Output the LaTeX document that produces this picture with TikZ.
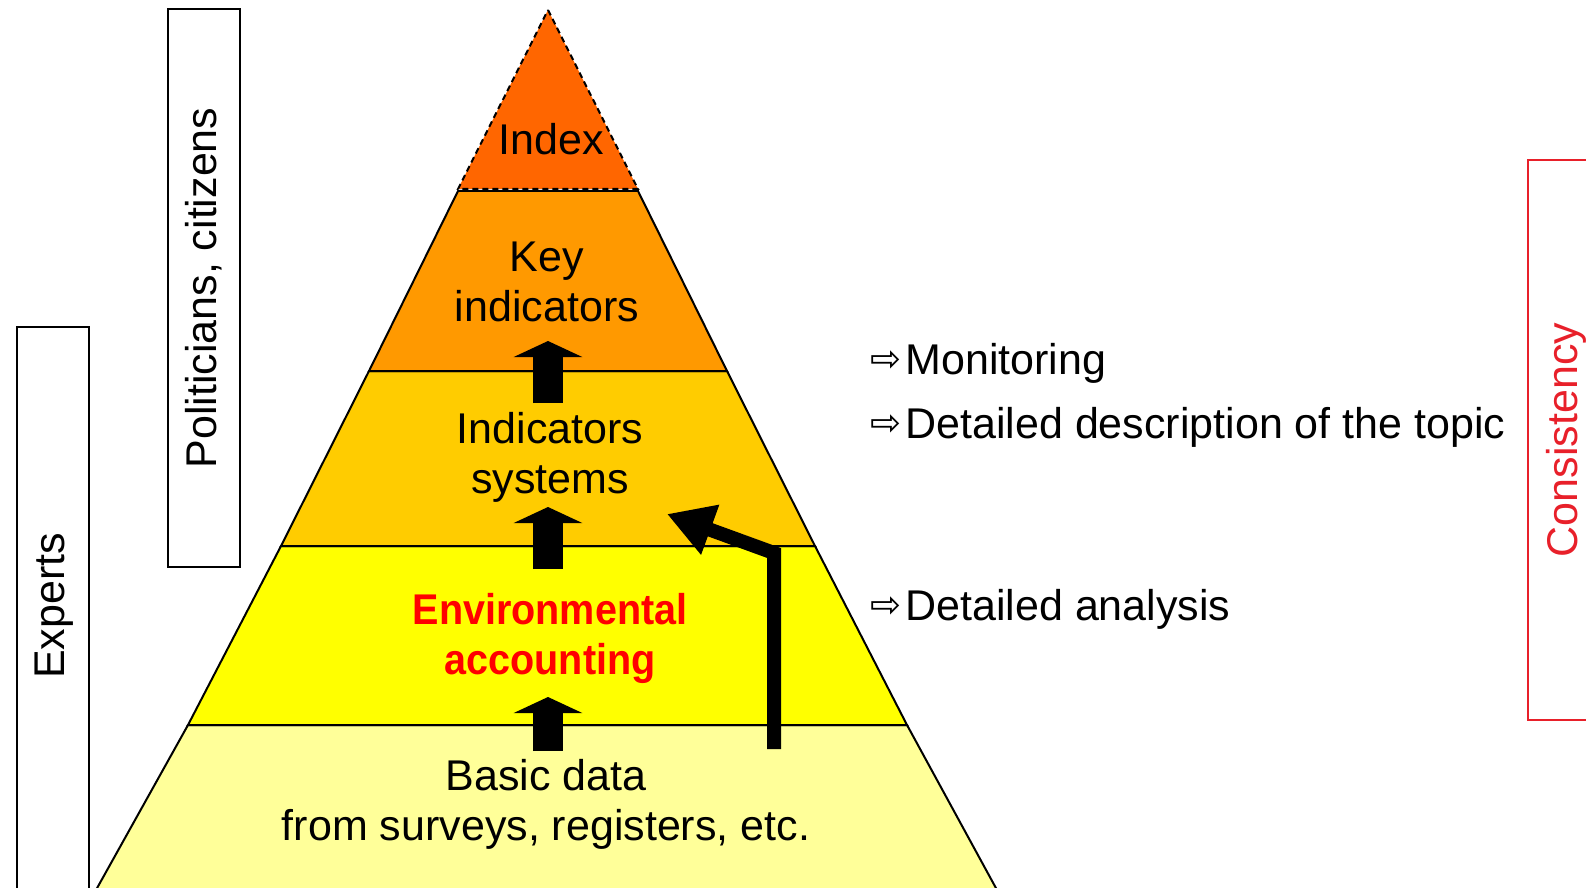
\documentclass[tikz,border=0pt]{standalone}
\usepackage{fontspec}
\setmainfont{Liberation Sans}
\newfontfamily\arrowfont{DejaVu Sans}
\newfontface\envfont[FakeStretch=0.92]{Liberation Sans Bold}
\usetikzlibrary{arrows.meta}
\definecolor{indexcol}{HTML}{FF6600}
\definecolor{keycol}{HTML}{FF9900}
\definecolor{syscol}{HTML}{FFCC00}
\definecolor{envcol}{HTML}{FFFF00}
\definecolor{basiccol}{HTML}{FFFF99}
\definecolor{conscol}{HTML}{E8202A}
\tikzset{
  layer/.style={draw=black, line width=1pt, line join=miter},
  layertext/.style={align=center, font=\fontsize{21.5}{25}\selectfont},
  sidetext/.style={anchor=base west, font=\fontsize{21.5}{25}\selectfont, inner sep=0pt},
  rolebox/.style={draw=black, line width=1pt},
  roletext/.style={rotate=90, font=\fontsize{21.5}{25}\selectfont},
  blockarrow/.style={line width=15pt, -{Triangle[length=8pt, width=34pt]}},
}
\def\sidearrow{\raisebox{1.5pt}{\arrowfont\fontsize{18.5}{20}\selectfont\symbol{"21E8}}\kern2pt}

\begin{document}
\begin{tikzpicture}[x=0.5pt, y=-0.5pt]
		%%%%% START %%%%%
		\useasboundingbox (0, 0) rectangle (1586, 888);
		\clip (0, 0) rectangle (1586, 888);
		
		% pyramid layers, bottom up
		\draw[layer, fill=basiccol] (188, 725) -- (907, 725) -- (997, 890) -- (96, 890) -- cycle;
		\draw[layer, fill=envcol] (281, 546) -- (815, 546) -- (907, 725) -- (188, 725) -- cycle;
		\draw[layer, fill=syscol] (369, 371) -- (727, 371) -- (815, 546) -- (281, 546) -- cycle;
		\draw[layer, fill=keycol] (458, 191) -- (638, 191) -- (727, 371) -- (369, 371) -- cycle;
		\draw[layer, fill=indexcol, dash pattern=on 3pt off 2pt] (548, 10) -- (638, 189) -- (458, 189) -- cycle;
		
		\node[layertext] (index) at (551, 139) {Index};
		\node[layertext] (keyind) at (547, 282) {Key\\indicators};
		\node[layertext] (indsys) at (550, 457) {Indicators\\systems};
		\node[layertext, text=red, font=\fontsize{21.5}{25}\envfont] (envacc) at (550, 638) {Environmental\\accounting};
		\node[layertext] (basic) at (546, 804) {Basic data\\from surveys, registers, etc.};
		
		% block arrows between the layers
		\coordinate (up1s) at (548, 403);
		\coordinate (up1e) at (548, 341);
		\coordinate (up2s) at (548, 569);
		\coordinate (up2e) at (548, 507);
		\coordinate (up3s) at (548, 751);
		\coordinate (up3e) at (548, 697);
		\draw[blockarrow] (up1s) -- (up1e);
		\draw[blockarrow] (up2s) -- (up2e);
		\draw[blockarrow] (up3s) -- (up3e);
		
		\coordinate (skips) at (774, 749);
		\coordinate (skipc) at (774, 553);
		\coordinate (skipe) at (667, 514);
		\draw[line width=7pt, line join=miter, -{Triangle[length=23pt, width=25pt]}] (skips) -- (skipc) -- (skipe);
		
		% roles on the left
		\draw[rolebox] (17, 327) rectangle (89, 900);
		\node[roletext] (experts) at (54, 606) {Experts};
		\draw[rolebox] (168, 9) rectangle (240, 567);
		\node[roletext] (politicians) at (204, 288) {Politicians, citizens};
		
		% uses on the right
		\node[sidetext] (monitor) at (870, 374) {\sidearrow Monitoring};
		\node[sidetext] (detdesc) at (870, 438) {\sidearrow Detailed description of the topic};
		\node[sidetext] (detana) at (870, 620) {\sidearrow Detailed analysis};
		
		\draw[conscol, line width=1pt] (1528, 160) rectangle (1610, 720);
		\node[roletext, text=conscol] (consist) at (1566, 440) {Consistency};
		
		%%%%% END %%%%%
	\end{tikzpicture}
\end{document}
